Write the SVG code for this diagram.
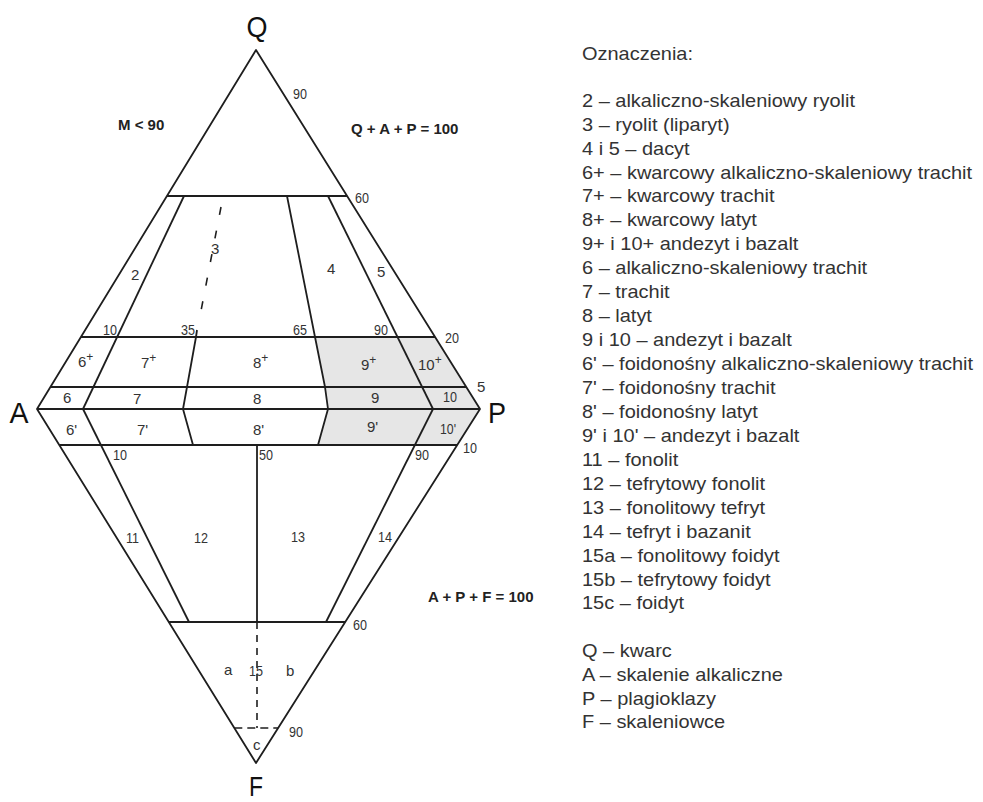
<svg xmlns="http://www.w3.org/2000/svg" width="983" height="802" viewBox="0 0 983 802">
<style>
.ln{fill:none;stroke:#1e1e1e;stroke-width:1.8;stroke-linejoin:round}
.dash{fill:none;stroke:#1e1e1e;stroke-width:1.6}
.lbl{font-family:'Liberation Sans Narrow','Liberation Sans',Arial,sans-serif;font-size:15px;fill:#333}
.sup{font-size:12px}
.big{font-family:'Liberation Sans Narrow','Liberation Sans',Arial,sans-serif;font-size:30px;fill:#111}
.bold{font-family:'Liberation Sans',Arial,sans-serif;font-size:15px;font-weight:bold;fill:#222}
.leg{font-family:'Liberation Sans',Arial,sans-serif;font-size:18px;fill:#333}
</style>
<rect width="983" height="802" fill="#fff"/>
<g id="shading">
<polygon points="315,337 435,337 466,387 480,409 457,445 318,445 328,409 325,387" fill="#e6e6e6"/>
</g>
<g id="connectors">
<path class="ln" d="M256,50 L37,409 L256,763 L480,409 Z"/>
<line class="ln" x1="167" y1="196" x2="347" y2="196"/>
<line class="ln" x1="81" y1="337" x2="435" y2="337"/>
<line class="ln" x1="50.5" y1="387" x2="466" y2="387"/>
<line class="ln" x1="37" y1="409" x2="480" y2="409"/>
<line class="ln" x1="59.3" y1="445" x2="457.2" y2="445"/>
<line class="ln" x1="168.8" y1="622" x2="345.2" y2="622"/>
<line class="ln" x1="184" y1="196" x2="83" y2="409"/>
<line class="ln" x1="83" y1="409" x2="189" y2="622"/>
<line class="ln" x1="328" y1="196" x2="433" y2="409"/>
<line class="ln" x1="433" y1="409" x2="326" y2="622"/>
<polyline class="ln" points="197,330 196,337 187,387 183,409 193,445"/>
<polyline class="ln" points="287,196 315,337 325,387 328,409 318,445"/>
<line class="ln" x1="257" y1="445" x2="257" y2="622"/>
<line class="dash" x1="221" y1="207" x2="200" y2="316" stroke-dasharray="8 16"/>
<line class="dash" x1="257" y1="622" x2="257" y2="728" stroke-dasharray="7 6"/>
<line class="dash" x1="234.3" y1="728" x2="278.1" y2="728" stroke-dasharray="8 5"/>
</g>
<g id="vertices">
<text class="big" x="246.5" y="37" textLength="21" lengthAdjust="spacingAndGlyphs">Q</text>
<text class="big" x="9.5" y="423" textLength="19" lengthAdjust="spacingAndGlyphs">A</text>
<text class="big" x="488" y="423" textLength="18" lengthAdjust="spacingAndGlyphs">P</text>
<text class="big" x="249" y="796" style="font-size:28px" textLength="14" lengthAdjust="spacingAndGlyphs">F</text>
</g>
<g id="formulas">
<text class="bold" x="118" y="130">M &lt; 90</text>
<text class="bold" x="351" y="134">Q + A + P = 100</text>
<text class="bold" x="428" y="602">A + P + F = 100</text>
</g>
<g id="scale-labels">
<text class="lbl" x="293" y="99" textLength="14" lengthAdjust="spacingAndGlyphs">90</text>
<text class="lbl" x="355" y="203" textLength="14" lengthAdjust="spacingAndGlyphs">60</text>
<text class="lbl" x="103" y="335" textLength="14" lengthAdjust="spacingAndGlyphs">10</text>
<text class="lbl" x="181" y="335" textLength="14" lengthAdjust="spacingAndGlyphs">35</text>
<text class="lbl" x="293" y="335" textLength="14" lengthAdjust="spacingAndGlyphs">65</text>
<text class="lbl" x="374" y="335" textLength="14" lengthAdjust="spacingAndGlyphs">90</text>
<text class="lbl" x="445" y="343" textLength="14" lengthAdjust="spacingAndGlyphs">20</text>
<text class="lbl" x="477" y="392">5</text>
<text class="lbl" x="113" y="460" textLength="14" lengthAdjust="spacingAndGlyphs">10</text>
<text class="lbl" x="259" y="460" textLength="14" lengthAdjust="spacingAndGlyphs">50</text>
<text class="lbl" x="415" y="460" textLength="14" lengthAdjust="spacingAndGlyphs">90</text>
<text class="lbl" x="463" y="453" textLength="14" lengthAdjust="spacingAndGlyphs">10</text>
<text class="lbl" x="353" y="630" textLength="14" lengthAdjust="spacingAndGlyphs">60</text>
<text class="lbl" x="289" y="737" textLength="14" lengthAdjust="spacingAndGlyphs">90</text>
</g>
<g id="field-labels">
<text class="lbl" x="131" y="280">2</text>
<text class="lbl" x="211" y="254">3</text>
<text class="lbl" x="327" y="274">4</text>
<text class="lbl" x="377" y="277">5</text>
<text class="lbl" x="78" y="367">6<tspan class="sup" dy="-6">+</tspan></text>
<text class="lbl" x="141" y="368">7<tspan class="sup" dy="-6">+</tspan></text>
<text class="lbl" x="253" y="368">8<tspan class="sup" dy="-6">+</tspan></text>
<text class="lbl" x="361" y="370">9<tspan class="sup" dy="-6">+</tspan></text>
<text class="lbl" x="418" y="370">10<tspan class="sup" dy="-6">+</tspan></text>
<text class="lbl" x="63" y="403">6</text>
<text class="lbl" x="133" y="404">7</text>
<text class="lbl" x="253" y="404">8</text>
<text class="lbl" x="371" y="403">9</text>
<text class="lbl" x="443" y="402" textLength="14" lengthAdjust="spacingAndGlyphs">10</text>
<text class="lbl" x="66" y="435">6'</text>
<text class="lbl" x="137" y="435">7'</text>
<text class="lbl" x="253" y="435">8'</text>
<text class="lbl" x="367" y="432">9'</text>
<text class="lbl" x="440" y="434" textLength="16" lengthAdjust="spacingAndGlyphs">10'</text>
<text class="lbl" x="126" y="543" textLength="13" lengthAdjust="spacingAndGlyphs">11</text>
<text class="lbl" x="194" y="543" textLength="14" lengthAdjust="spacingAndGlyphs">12</text>
<text class="lbl" x="291" y="542" textLength="14" lengthAdjust="spacingAndGlyphs">13</text>
<text class="lbl" x="378" y="542" textLength="14" lengthAdjust="spacingAndGlyphs">14</text>
<text class="lbl" x="224" y="675">a</text>
<text class="lbl" x="249" y="676" textLength="14" lengthAdjust="spacingAndGlyphs">15</text>
<text class="lbl" x="286" y="676">b</text>
<text class="lbl" x="253" y="750">c</text>
</g>
<g id="legend" transform="translate(582 0) scale(1.11 1)">
<text class="leg" x="0" y="60">Oznaczenia:</text>
<text class="leg" x="0" y="107">2 – alkaliczno-skaleniowy ryolit</text>
<text class="leg" x="0" y="131">3 – ryolit (liparyt)</text>
<text class="leg" x="0" y="155">4 i 5 – dacyt</text>
<text class="leg" x="0" y="179">6+ – kwarcowy alkaliczno-skaleniowy trachit</text>
<text class="leg" x="0" y="202">7+ – kwarcowy trachit</text>
<text class="leg" x="0" y="226">8+ – kwarcowy latyt</text>
<text class="leg" x="0" y="250">9+ i 10+ andezyt i bazalt</text>
<text class="leg" x="0" y="274">6 – alkaliczno-skaleniowy trachit</text>
<text class="leg" x="0" y="298">7 – trachit</text>
<text class="leg" x="0" y="322">8 – latyt</text>
<text class="leg" x="0" y="346">9 i 10 – andezyt i bazalt</text>
<text class="leg" x="0" y="370">6' – foidonośny alkaliczno-skaleniowy trachit</text>
<text class="leg" x="0" y="394">7' – foidonośny trachit</text>
<text class="leg" x="0" y="418">8' – foidonośny latyt</text>
<text class="leg" x="0" y="442">9' i 10' – andezyt i bazalt</text>
<text class="leg" x="0" y="466">11 – fonolit</text>
<text class="leg" x="0" y="490">12 – tefrytowy fonolit</text>
<text class="leg" x="0" y="514">13 – fonolitowy tefryt</text>
<text class="leg" x="0" y="538">14 – tefryt i bazanit</text>
<text class="leg" x="0" y="562">15a – fonolitowy foidyt</text>
<text class="leg" x="0" y="586">15b – tefrytowy foidyt</text>
<text class="leg" x="0" y="609">15c – foidyt</text>
<text class="leg" x="0" y="657">Q – kwarc</text>
<text class="leg" x="0" y="681">A – skalenie alkaliczne</text>
<text class="leg" x="0" y="705">P – plagioklazy</text>
<text class="leg" x="0" y="728">F – skaleniowce</text>
</g>
</svg>
